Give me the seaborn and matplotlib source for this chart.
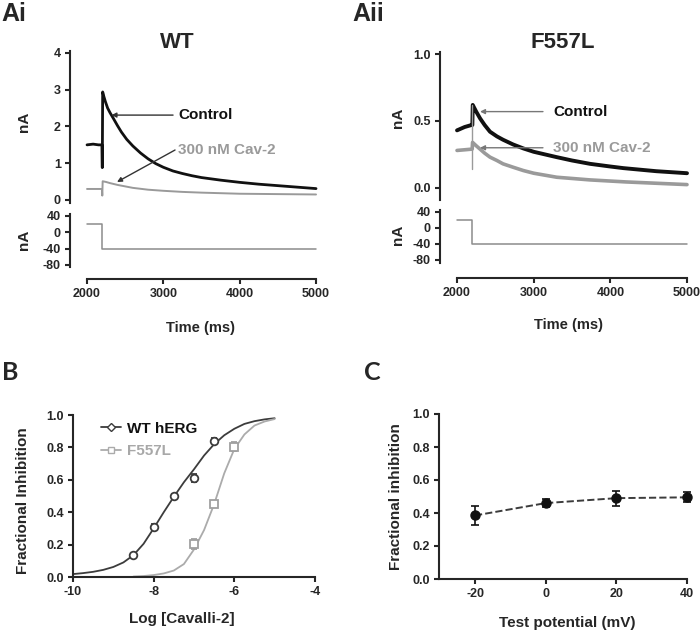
import matplotlib
matplotlib.use("Agg")
import matplotlib.pyplot as plt
from matplotlib.lines import Line2D
import seaborn as sns

W, H = 700, 634

# --- Ai: WT currents (time in ms, current in nA) ---
WT_CTRL_T = [2000, 2080, 2150, 2195, 2200, 2205, 2220, 2240, 2270, 2300, 2345, 2400,
             2450, 2520, 2600, 2700, 2800, 2900, 3000, 3125, 3250, 3375, 3500, 3750,
             4000, 4250, 4500, 4750, 5000]
WT_CTRL_I = [1.50, 1.52, 1.50, 1.50, 0.88, 2.94, 2.82, 2.68, 2.50, 2.38, 2.22, 2.02,
             1.85, 1.65, 1.47, 1.28, 1.12, 0.99, 0.89, 0.79, 0.72, 0.66, 0.61, 0.54,
             0.48, 0.43, 0.39, 0.35, 0.31]
WT_DRUG_T = [2000, 2195, 2200, 2205, 2250, 2300, 2400, 2500, 2600, 2800, 3000, 3250,
             3500, 4000, 4500, 5000]
WT_DRUG_I = [0.30, 0.30, 0.12, 0.51, 0.49, 0.46, 0.41, 0.37, 0.33, 0.28, 0.25, 0.22,
             0.20, 0.17, 0.16, 0.15]

# --- Aii: F557L currents ---
MUT_CTRL_T = [2000, 2100, 2190, 2200, 2205, 2250, 2300, 2360, 2430, 2520, 2600, 2730,
              2865, 3000, 3300, 3500, 3735, 4000, 4170, 4600, 5000]
MUT_CTRL_I = [0.43, 0.455, 0.47, 0.47, 0.62, 0.57, 0.52, 0.47, 0.42, 0.385, 0.36, 0.325,
              0.295, 0.27, 0.23, 0.205, 0.18, 0.16, 0.148, 0.125, 0.11]
MUT_DRUG_T = [2000, 2100, 2198, 2203, 2250, 2300, 2360, 2430, 2520, 2600, 2730, 2865,
              3000, 3300, 3735, 4200, 4600, 5000]
MUT_DRUG_I = [0.28, 0.285, 0.29, 0.34, 0.315, 0.29, 0.26, 0.23, 0.205, 0.18, 0.155, 0.13,
              0.11, 0.08, 0.06, 0.045, 0.035, 0.025]
MUT_SPIKE_T = [2200, 2200]
MUT_SPIKE_I = [0.14, 0.62]

# --- voltage protocol (mV) ---
PROT_T = [2000, 2200, 2200, 5000]
PROT_V = [20, 20, -40, -40]

# --- B: concentration response ---
WT_LOGC = [-8.5, -8.0, -7.5, -7.0, -6.5]
WT_FI = [0.134, 0.31, 0.50, 0.61, 0.84]
WT_ERR = [0.01, 0.02, 0.01, 0.025, 0.015]
MUT_LOGC = [-7.0, -6.5, -6.0]
MUT_FI = [0.205, 0.45, 0.805]
MUT_ERR = [0.03, 0.015, 0.03]

WT_FIT_X = [-10, -9.75, -9.5, -9.25, -9, -8.75, -8.5, -8.25, -8, -7.75, -7.5, -7.25,
            -7, -6.75, -6.5, -6.25, -6, -5.75, -5.5, -5.25, -5]
WT_FIT_Y = [0.018, 0.024, 0.032, 0.044, 0.062, 0.09, 0.135, 0.205, 0.30, 0.40, 0.495,
            0.585, 0.665, 0.75, 0.82, 0.875, 0.915, 0.945, 0.962, 0.973, 0.98]
MUT_FIT_X = [-8.5, -8.25, -8, -7.75, -7.5, -7.25, -7, -6.75, -6.5, -6.25, -6, -5.75,
             -5.5, -5.25, -5]
MUT_FIT_Y = [0.003, 0.006, 0.012, 0.022, 0.04, 0.08, 0.17, 0.29, 0.45, 0.64, 0.79, 0.88,
             0.935, 0.96, 0.975]

# --- C: voltage dependence ---
C_V = [-20, 0, 20, 40]
C_FI = [0.385, 0.46, 0.49, 0.495]
C_ERR = [0.06, 0.025, 0.045, 0.03]

BLACK = "#111111"
GREY = "#9a9a9a"
DARK = "#3c3c3c"
PROT_GREY = "#8c8c8c"


def px_rect(x0, y0, x1, y1):
    return [x0 / W, 1 - y1 / H, (x1 - x0) / W, (y1 - y0) / H]


def px_pt(x, y):
    return x / W, 1 - y / H


def style_ax(ax):
    ax.tick_params(width=1.5, length=3.5, labelsize=9, pad=3, direction="out")
    for s in ax.spines.values():
        s.set_linewidth(1.5)


def line(ax, x, y, color, lw, **kw):
    sns.lineplot(x=x, y=y, ax=ax, color=color, lw=lw, estimator=None,
                 sort=False, legend=False, **kw)


def trace_panel(fig, p):
    x0, x1 = p["xpx"]
    ax_i = fig.add_axes(px_rect(x0, p["ipx"][0], x1, p["ipx"][1]))
    ax_v = fig.add_axes(px_rect(x0, p["vpx"][0], x1, p["vpx"][1]))
    for ax in (ax_i, ax_v):
        style_ax(ax)
        ax.set_xlim(*p["xlim"])
        ax.spines["top"].set_visible(False)
        ax.spines["right"].set_visible(False)

    line(ax_i, p["ctrl"][0], p["ctrl"][1], BLACK, p["ctrl_lw"])
    line(ax_i, p["drug"][0], p["drug"][1], GREY, p["drug_lw"])
    if p.get("spike"):
        line(ax_i, p["spike"][0], p["spike"][1], GREY, 1.0)
    ax_i.set_ylim(*p["ilim"])
    ax_i.set_yticks(p["iticks"])
    ax_i.set_yticklabels(p["ilabels"])
    ax_i.spines["bottom"].set_visible(False)
    ax_i.set_xticks([])
    ax_i.set_xlabel("")
    ax_i.set_ylabel("nA", fontsize=11, fontweight="bold")
    ax_i.yaxis.set_label_coords(*px_pt(*p["nA1"]), transform=fig.transFigure)

    for label, color, tip, tail, arrow_color in p["notes"]:
        ax_i.annotate("", xy=tip, xytext=tail,
                      arrowprops=dict(arrowstyle="-|>", color=arrow_color, lw=1.0,
                                      mutation_scale=7, shrinkA=0, shrinkB=0))
        ax_i.text(p["text_x"], tail[1], label, color=color, fontsize=11,
                  fontweight="bold", ha="left", va="center")

    line(ax_v, PROT_T, PROT_V, PROT_GREY, 1.1)
    ax_v.set_ylim(*p["vlim"])
    ax_v.set_yticks([40, 0, -40, -80])
    ax_v.set_ylabel("nA", fontsize=11, fontweight="bold")
    ax_v.yaxis.set_label_coords(*px_pt(*p["nA2"]), transform=fig.transFigure)
    ax_v.spines["bottom"].set_position(("outward", p["xoff"]))
    ax_v.spines["bottom"].set_bounds(2000, 5000)
    ax_v.set_xticks([2000, 3000, 4000, 5000])
    ax_v.set_xlabel("Time (ms)", fontsize=10.5, fontweight="bold")
    ax_v.xaxis.set_label_coords(*px_pt(*p["tlab"]), transform=fig.transFigure)

    fig.text(*px_pt(*p["title_xy"]), p["title"], fontsize=16, fontweight="bold",
             ha="center", va="center")
    fig.text(*px_pt(*p["tag_xy"]), p["tag"], fontsize=18, fontweight="bold",
             ha="left", va="center")


def panel_b(fig):
    ax = fig.add_axes(px_rect(73, 415, 315, 577))
    style_ax(ax)
    sns.despine(ax=ax)
    line(ax, WT_FIT_X, WT_FIT_Y, DARK, 1.3)
    line(ax, MUT_FIT_X, MUT_FIT_Y, "#ababab", 1.3)
    ax.errorbar(WT_LOGC, WT_FI, yerr=WT_ERR, fmt="o", ms=5.5, mfc="white", mec=DARK,
                mew=1.3, ecolor=DARK, elinewidth=1.2, capsize=2.5, capthick=1.2)
    ax.errorbar(MUT_LOGC, MUT_FI, yerr=MUT_ERR, fmt="s", ms=5.5, mfc="white",
                mec="#a0a0a0", mew=1.3, ecolor="#a0a0a0", elinewidth=1.2,
                capsize=2.5, capthick=1.2)
    ax.set_xlim(-10, -4)
    ax.set_ylim(0, 1.0)
    ax.set_xticks([-10, -8, -6, -4])
    ax.set_yticks([0, 0.2, 0.4, 0.6, 0.8, 1.0])
    ax.set_yticklabels(["0.0", "0.2", "0.4", "0.6", "0.8", "1.0"])
    ax.set_xlabel("Log [Cavalli-2]", fontsize=11, fontweight="bold")
    ax.set_ylabel("Fractional Inhibition", fontsize=11, fontweight="bold")
    ax.xaxis.set_label_coords(*px_pt(182, 612), transform=fig.transFigure)
    ax.yaxis.set_label_coords(*px_pt(30, 501), transform=fig.transFigure)

    handles = [
        Line2D([0], [0], color=DARK, lw=1.3, marker="D", ms=4, mfc="white", mec=DARK),
        Line2D([0], [0], color="#ababab", lw=1.3, marker="s", ms=4, mfc="white",
               mec="#ababab"),
    ]
    leg = ax.legend(handles, ["WT hERG", "F557L"], loc="upper left",
                    bbox_to_anchor=px_pt(93, 414), bbox_transform=fig.transFigure,
                    frameon=False, handlelength=1.3, handletextpad=0.4,
                    labelspacing=0.55, borderpad=0, prop={"size": 11, "weight": "bold"})
    for txt, c in zip(leg.get_texts(), [BLACK, "#a8a8a8"]):
        txt.set_color(c)
    fig.text(*px_pt(2, 373), "B", fontsize=18, fontweight="bold",
             family=["Lato", "DejaVu Sans"], ha="left", va="center")


def panel_c(fig):
    ax = fig.add_axes(px_rect(439, 414, 687, 579))
    style_ax(ax)
    sns.despine(ax=ax)
    line(ax, C_V, C_FI, DARK, 1.4, linestyle="--", dashes=(3.5, 2.5))
    eb = ax.errorbar(C_V, C_FI, yerr=C_ERR, fmt="o", ms=6.5, color=BLACK,
                     elinewidth=1.2, capsize=3, capthick=1.2)
    for art in eb.get_children():
        art.set_clip_on(False)
    ax.set_xlim(-30.2, 40)
    ax.set_ylim(0, 1.0)
    ax.set_xticks([-20, 0, 20, 40])
    ax.set_yticks([0, 0.2, 0.4, 0.6, 0.8, 1.0])
    ax.set_yticklabels(["0.0", "0.2", "0.4", "0.6", "0.8", "1.0"])
    ax.set_xlabel("Test potential (mV)", fontsize=11, fontweight="bold")
    ax.set_ylabel("Fractional inhibition", fontsize=11, fontweight="bold")
    ax.xaxis.set_label_coords(*px_pt(567, 616), transform=fig.transFigure)
    ax.yaxis.set_label_coords(*px_pt(403, 497), transform=fig.transFigure)
    fig.text(*px_pt(364, 373), "C", fontsize=18, fontweight="bold",
             family=["Lato", "DejaVu Sans"], ha="left", va="center")


def main():
    sns.set_style("ticks")
    plt.rcParams["font.family"] = ["Liberation Sans", "DejaVu Sans"]
    plt.rcParams["font.weight"] = "bold"
    plt.rcParams["axes.unicode_minus"] = False

    fig = plt.figure(figsize=(W / 100, H / 100), dpi=100)

    wt = dict(
        xpx=(70, 320), ipx=(51, 203), vpx=(214, 267), xlim=(1777, 5052),
        ctrl=(WT_CTRL_T, WT_CTRL_I), drug=(WT_DRUG_T, WT_DRUG_I),
        ctrl_lw=2.0, drug_lw=1.4,
        ilim=(-0.082, 4.054), iticks=[0, 1, 2, 3, 4], ilabels=["0", "1", "2", "3", "4"],
        vlim=(-85, 44.9), xoff=8.6,
        notes=[("Control", BLACK, (2320, 2.31), (3127, 2.31), "#333333"),
               ("300 nM Cav-2", GREY, (2393, 0.49), (3153, 1.36), "#333333")],
        text_x=3192, nA1=(31, 122), nA2=(31, 240), tlab=(200, 321),
        title="WT", title_xy=(177, 42), tag="Ai", tag_xy=(1, 14),
    )
    mut = dict(
        xpx=(440, 690), ipx=(52, 200), vpx=(210, 263), xlim=(1778, 5039),
        ctrl=(MUT_CTRL_T, MUT_CTRL_I), drug=(MUT_DRUG_T, MUT_DRUG_I),
        spike=(MUT_SPIKE_T, MUT_SPIKE_I),
        ctrl_lw=2.8, drug_lw=2.6,
        ilim=(-0.09, 1.015), iticks=[0, 0.5, 1.0], ilabels=["0.0", "0.5", "1.0"],
        vlim=(-87.5, 45), xoff=10.8,
        notes=[("Control", BLACK, (2300, 0.57), (3121, 0.57), "#777777"),
               ("300 nM Cav-2", GREY, (2300, 0.30), (3121, 0.30), "#777777")],
        text_x=3252, nA1=(405, 118), nA2=(405, 235), tlab=(568, 318),
        title="F557L", title_xy=(563, 42), tag="Aii", tag_xy=(352, 14),
    )
    trace_panel(fig, wt)
    trace_panel(fig, mut)
    panel_b(fig)
    panel_c(fig)

    fig.savefig("out.png", dpi=100)
    plt.close(fig)


if __name__ == "__main__":
    main()
